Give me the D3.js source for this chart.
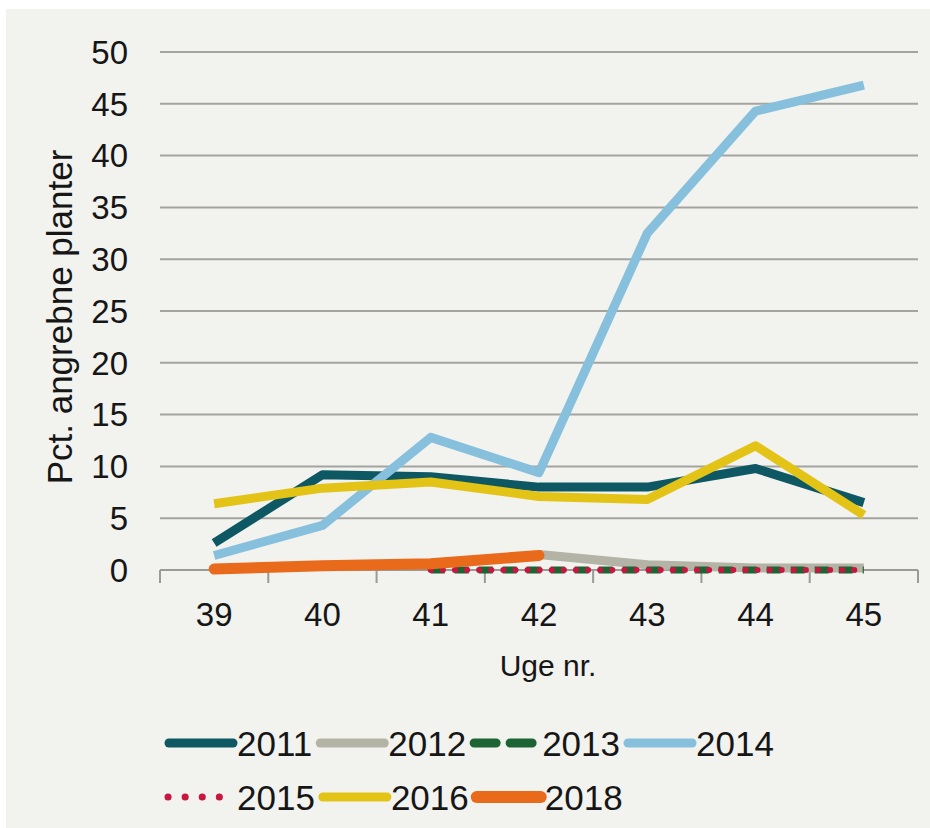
<!DOCTYPE html>
<html>
<head>
<meta charset="utf-8">
<script src="https://cdn.jsdelivr.net/npm/d3@7"></script>
<style>
  body { margin: 0; background: #fff; }
  text { font-family: "Liberation Sans", Arial, sans-serif; fill: #161616; }
</style>
</head>
<body>
<div id="chart"></div>
<script>
// weeks and percent of attacked plants per season
var weeks = [39, 40, 41, 42, 43, 44, 45];
var yTicks = [0, 5, 10, 15, 20, 25, 30, 35, 40, 45, 50];

var v2011 = [2.6, 9.2, 9.0, 8.0, 8.0, 9.8, 6.5];
var v2012 = [null, null, null, 1.5, 0.5, 0.2, 0.2];
var v2013 = [null, null, 0, 0, 0, 0, 0];
var v2014 = [1.4, 4.3, 12.8, 9.4, 32.5, 44.3, 46.8];
var v2015 = [null, null, 0, 0, 0, 0, 0];
var v2016 = [6.4, 7.9, 8.5, 7.1, 6.8, 12.0, 5.3];
var v2018 = [0.1, 0.4, 0.6, 1.4, null, null, null];

var series = [
  {name: "2011", values: v2011, color: "#0e5864", width: 9, dash: null},
  {name: "2012", values: v2012, color: "#b3b3a6", width: 9, dash: null},
  {name: "2013", values: v2013, color: "#1c6434", width: 7, dash: "14,10"},
  {name: "2014", values: v2014, color: "#86c0dd", width: 9, dash: null},
  {name: "2015", values: v2015, color: "#c8163e", width: 6, dash: "0.1,12"},
  {name: "2016", values: v2016, color: "#e3c316", width: 9, dash: null},
  {name: "2018", values: v2018, color: "#ea6a1c", width: 11, dash: null}
];

var W = 930, H = 828;
var svg = d3.select("#chart").append("svg")
  .attr("width", W)
  .attr("height", H);

// chart background (white strip top and left)
svg.append("rect")
  .attr("x", 6).attr("y", 9)
  .attr("width", W - 6).attr("height", H - 9)
  .attr("fill", "#f2f2ee");

var x = d3.scaleBand().domain(weeks).range([160, 918]);
var y = d3.scaleLinear().domain([0, 50]).range([570, 52]);

// gridlines
svg.append("g")
  .selectAll("line")
  .data(yTicks.filter(function(d) { return d > 0; }))
  .enter().append("line")
    .attr("x1", 160).attr("x2", 918)
    .attr("y1", function(d) { return y(d); })
    .attr("y2", function(d) { return y(d); })
    .attr("stroke", "#a3a3a0")
    .attr("stroke-width", 2);

// y tick labels
svg.append("g")
  .selectAll("text")
  .data(yTicks)
  .enter().append("text")
    .attr("x", 128)
    .attr("y", function(d) { return y(d); })
    .attr("dy", "0.36em")
    .attr("text-anchor", "end")
    .style("font-size", "33px")
    .text(function(d) { return d; });

// x axis line and ticks
svg.append("line")
  .attr("x1", 160).attr("x2", 918)
  .attr("y1", y(0)).attr("y2", y(0))
  .attr("stroke", "#9a9a96").attr("stroke-width", 2);

var edges = weeks.map(function(w) { return x(w); }).concat([x.range()[1]]);
svg.append("g")
  .selectAll("line")
  .data(edges)
  .enter().append("line")
    .attr("x1", function(d) { return d; })
    .attr("x2", function(d) { return d; })
    .attr("y1", y(0)).attr("y2", y(0) + 13)
    .attr("stroke", "#9a9a96").attr("stroke-width", 2);

svg.append("g")
  .selectAll("text")
  .data(weeks)
  .enter().append("text")
    .attr("x", function(d) { return x(d) + x.bandwidth() / 2; })
    .attr("y", 626)
    .attr("text-anchor", "middle")
    .style("font-size", "33px")
    .text(function(d) { return d; });

// axis titles
svg.append("text")
  .attr("x", 548).attr("y", 676)
  .attr("text-anchor", "middle")
  .style("font-size", "30px")
  .text("Uge nr.");

svg.append("text")
  .attr("transform", "translate(72,317) rotate(-90)")
  .attr("text-anchor", "middle")
  .style("font-size", "35px")
  .text("Pct. angrebne planter");

// lines
var line = d3.line()
  .defined(function(d) { return d.v !== null; })
  .x(function(d) { return x(d.w) + x.bandwidth() / 2; })
  .y(function(d) { return y(d.v); });

series.forEach(function(s) {
  var pts = weeks.map(function(w, i) { return {w: w, v: s.values[i]}; });
  svg.append("path")
    .datum(pts)
    .attr("d", line)
    .attr("fill", "none")
    .attr("stroke", s.color)
    .attr("stroke-width", s.width)
    .attr("stroke-linejoin", "round")
    .attr("stroke-linecap", s.name == "2015" || s.name == "2018" ? "round" : "butt")
    .attr("stroke-dasharray", s.dash);
});

// legend, two rows
var rows = [series.slice(0, 4), series.slice(4)];
rows.forEach(function(row, r) {
  var cy = 743 + r * 54;
  var cx = 165;
  row.forEach(function(s) {
    var g = svg.append("g");
    g.append("line")
      .attr("x1", cx + (s.name == "2015" ? 3 : 4)).attr("x2", cx + 68)
      .attr("y1", cy).attr("y2", cy)
      .attr("stroke", s.color)
      .attr("stroke-width", s.name == "2018" ? 12 : (s.name == "2015" ? 7 : 9))
      .attr("stroke-linecap", "round")
      .attr("stroke-dasharray", s.name == "2013" ? "22,14" : (s.name == "2015" ? "0.1,17" : null));
    var t = g.append("text")
      .attr("x", cx + 72).attr("y", cy)
      .attr("dy", "0.36em")
      .style("font-size", "35px")
      .text(s.name);
    cx = cx + 72 + t.node().getComputedTextLength() + 4;
  });
});
</script>
</body>
</html>
